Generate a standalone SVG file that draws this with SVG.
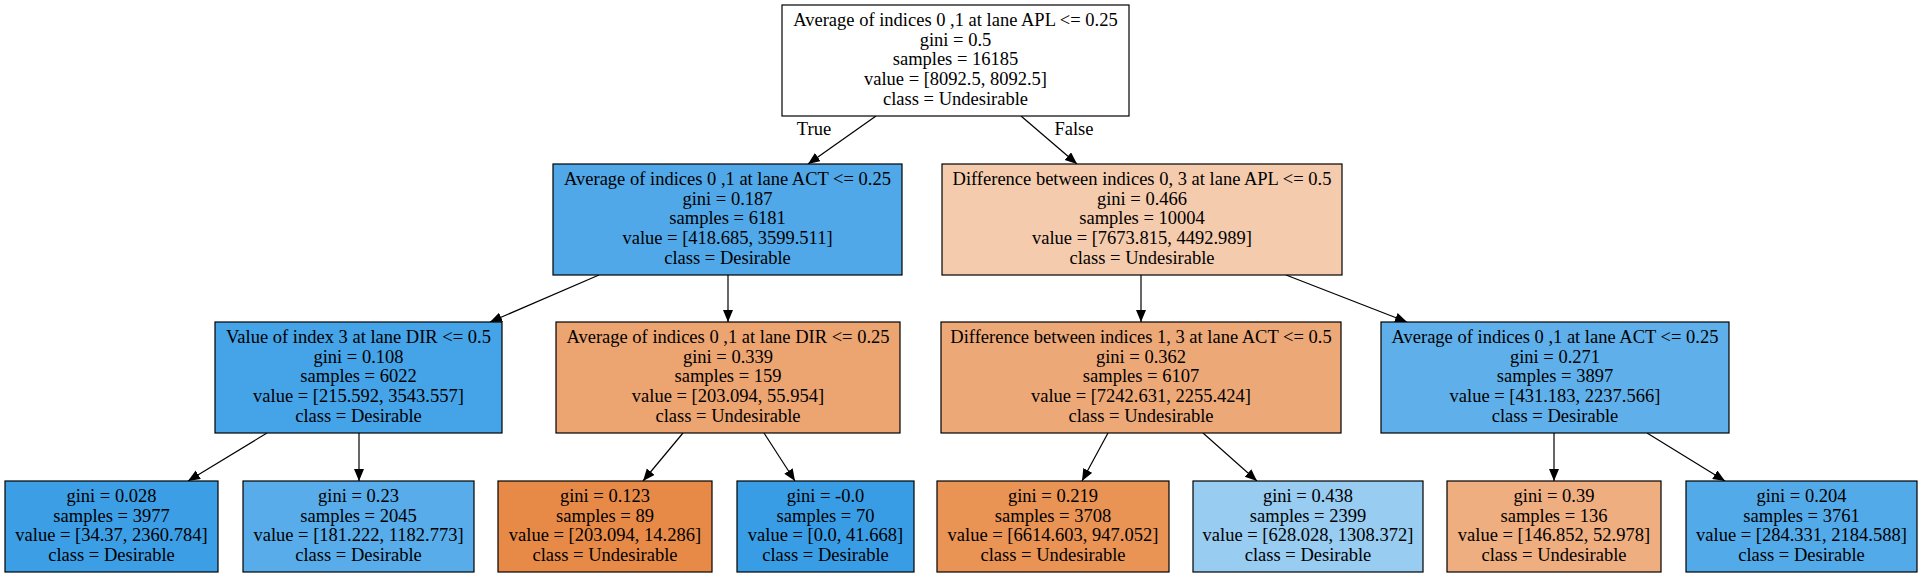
<svg xmlns="http://www.w3.org/2000/svg" width="1922" height="577" viewBox="0 0 1922 577">
<style>
.n rect{stroke:#000;stroke-width:1.2}
text{font-family:"Liberation Serif","Times New Roman",serif;font-size:18.5px;fill:#000;text-anchor:middle}
.e line{stroke:#000;stroke-width:1.2;marker-end:url(#ah)}
</style>
<defs>
<marker id="ah" markerUnits="userSpaceOnUse" markerWidth="14" markerHeight="12" refX="12" refY="5" orient="auto"><path d="M0,0 L12,5 L0,10 Z" fill="#000"/></marker>
</defs>
<rect width="1922" height="577" fill="#fff"/>
<g class="e" id="edges">
<line x1="876" y1="116" x2="808" y2="164"/>
<line x1="1021" y1="116" x2="1077" y2="164"/>
<line x1="599" y1="275" x2="490" y2="322"/>
<line x1="728" y1="275" x2="728" y2="322"/>
<line x1="1141" y1="275" x2="1141" y2="322"/>
<line x1="1286" y1="275" x2="1407" y2="322"/>
<line x1="267" y1="433" x2="188" y2="481"/>
<line x1="359" y1="433" x2="359" y2="481"/>
<line x1="683" y1="433" x2="643" y2="481"/>
<line x1="764" y1="433" x2="795" y2="481"/>
<line x1="1108" y1="433" x2="1082" y2="481"/>
<line x1="1203" y1="433" x2="1257" y2="481"/>
<line x1="1554" y1="433" x2="1554" y2="481"/>
<line x1="1647" y1="433" x2="1725" y2="481"/>
<text x="814" y="135">True</text>
<text x="1074" y="135">False</text>
</g>
<g class="n" id="n0">
<rect x="782" y="5" width="347" height="111" fill="#ffffff"/>
<text x="955.5" y="26">Average of indices 0 ,1 at lane APL &lt;= 0.25</text>
<text x="955.5" y="45.7">gini = 0.5</text>
<text x="955.5" y="65.4">samples = 16185</text>
<text x="955.5" y="85.1">value = [8092.5, 8092.5]</text>
<text x="955.5" y="104.8">class = Undesirable</text>
</g>
<g class="n" id="n1">
<rect x="553" y="164" width="349" height="111" fill="#50a8e8"/>
<text x="727.5" y="185">Average of indices 0 ,1 at lane ACT &lt;= 0.25</text>
<text x="727.5" y="204.7">gini = 0.187</text>
<text x="727.5" y="224.4">samples = 6181</text>
<text x="727.5" y="244.1">value = [418.685, 3599.511]</text>
<text x="727.5" y="263.8">class = Desirable</text>
</g>
<g class="n" id="n2">
<rect x="942" y="164" width="400" height="111" fill="#f4cbad"/>
<text x="1142" y="185">Difference between indices 0, 3 at lane APL &lt;= 0.5</text>
<text x="1142" y="204.7">gini = 0.466</text>
<text x="1142" y="224.4">samples = 10004</text>
<text x="1142" y="244.1">value = [7673.815, 4492.989]</text>
<text x="1142" y="263.8">class = Undesirable</text>
</g>
<g class="n" id="n3">
<rect x="215" y="322" width="287" height="111" fill="#45a3e7"/>
<text x="358.5" y="343">Value of index 3 at lane DIR &lt;= 0.5</text>
<text x="358.5" y="362.7">gini = 0.108</text>
<text x="358.5" y="382.4">samples = 6022</text>
<text x="358.5" y="402.1">value = [215.592, 3543.557]</text>
<text x="358.5" y="421.8">class = Desirable</text>
</g>
<g class="n" id="n4">
<rect x="556" y="322" width="344" height="111" fill="#eca470"/>
<text x="728" y="343">Average of indices 0 ,1 at lane DIR &lt;= 0.25</text>
<text x="728" y="362.7">gini = 0.339</text>
<text x="728" y="382.4">samples = 159</text>
<text x="728" y="402.1">value = [203.094, 55.954]</text>
<text x="728" y="421.8">class = Undesirable</text>
</g>
<g class="n" id="n5">
<rect x="941" y="322" width="400" height="111" fill="#eda877"/>
<text x="1141" y="343">Difference between indices 1, 3 at lane ACT &lt;= 0.5</text>
<text x="1141" y="362.7">gini = 0.362</text>
<text x="1141" y="382.4">samples = 6107</text>
<text x="1141" y="402.1">value = [7242.631, 2255.424]</text>
<text x="1141" y="421.8">class = Undesirable</text>
</g>
<g class="n" id="n6">
<rect x="1381" y="322" width="348" height="111" fill="#5fb0ea"/>
<text x="1555" y="343">Average of indices 0 ,1 at lane ACT &lt;= 0.25</text>
<text x="1555" y="362.7">gini = 0.271</text>
<text x="1555" y="382.4">samples = 3897</text>
<text x="1555" y="402.1">value = [431.183, 2237.566]</text>
<text x="1555" y="421.8">class = Desirable</text>
</g>
<g class="n" id="n7">
<rect x="5" y="481" width="213" height="91" fill="#3c9ee5"/>
<text x="111.5" y="502">gini = 0.028</text>
<text x="111.5" y="521.7">samples = 3977</text>
<text x="111.5" y="541.4">value = [34.37, 2360.784]</text>
<text x="111.5" y="561.1">class = Desirable</text>
</g>
<g class="n" id="n8">
<rect x="243" y="481" width="231" height="91" fill="#57ace9"/>
<text x="358.5" y="502">gini = 0.23</text>
<text x="358.5" y="521.7">samples = 2045</text>
<text x="358.5" y="541.4">value = [181.222, 1182.773]</text>
<text x="358.5" y="561.1">class = Desirable</text>
</g>
<g class="n" id="n9">
<rect x="498" y="481" width="214" height="91" fill="#e78a47"/>
<text x="605" y="502">gini = 0.123</text>
<text x="605" y="521.7">samples = 89</text>
<text x="605" y="541.4">value = [203.094, 14.286]</text>
<text x="605" y="561.1">class = Undesirable</text>
</g>
<g class="n" id="n10">
<rect x="737" y="481" width="177" height="91" fill="#399de5"/>
<text x="825.5" y="502">gini = -0.0</text>
<text x="825.5" y="521.7">samples = 70</text>
<text x="825.5" y="541.4">value = [0.0, 41.668]</text>
<text x="825.5" y="561.1">class = Desirable</text>
</g>
<g class="n" id="n11">
<rect x="937" y="481" width="232" height="91" fill="#e99355"/>
<text x="1053" y="502">gini = 0.219</text>
<text x="1053" y="521.7">samples = 3708</text>
<text x="1053" y="541.4">value = [6614.603, 947.052]</text>
<text x="1053" y="561.1">class = Undesirable</text>
</g>
<g class="n" id="n12">
<rect x="1193" y="481" width="230" height="91" fill="#98ccf1"/>
<text x="1308" y="502">gini = 0.438</text>
<text x="1308" y="521.7">samples = 2399</text>
<text x="1308" y="541.4">value = [628.028, 1308.372]</text>
<text x="1308" y="561.1">class = Desirable</text>
</g>
<g class="n" id="n13">
<rect x="1447" y="481" width="214" height="91" fill="#eeae80"/>
<text x="1554" y="502">gini = 0.39</text>
<text x="1554" y="521.7">samples = 136</text>
<text x="1554" y="541.4">value = [146.852, 52.978]</text>
<text x="1554" y="561.1">class = Undesirable</text>
</g>
<g class="n" id="n14">
<rect x="1686" y="481" width="231" height="91" fill="#53aae8"/>
<text x="1801.5" y="502">gini = 0.204</text>
<text x="1801.5" y="521.7">samples = 3761</text>
<text x="1801.5" y="541.4">value = [284.331, 2184.588]</text>
<text x="1801.5" y="561.1">class = Desirable</text>
</g>
</svg>
